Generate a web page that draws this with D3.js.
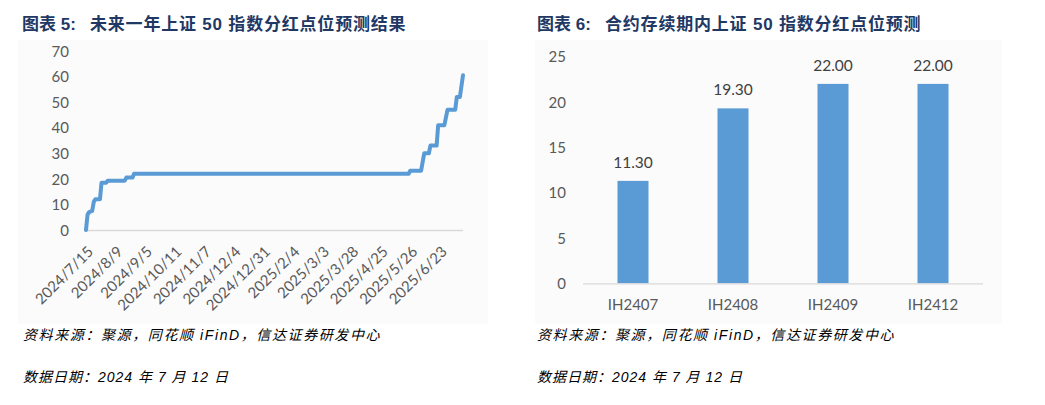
<!DOCTYPE html>
<html><head><meta charset="utf-8">
<script src="https://cdn.jsdelivr.net/npm/d3@7/dist/d3.min.js"></script>
<style>
html,body{margin:0;padding:0;background:#fff;}
svg{display:block;}
</style></head>
<body>
<svg id="chart" width="1045" height="405"></svg>
<script>
// ---- Left chart data (trading-day index from 2024/7/15, dividend points) ----
const lineDays   = [0, 1, 2, 4, 5, 6, 9, 10, 13, 14, 25, 26, 30, 31, 208, 209, 216, 218, 221, 222, 226, 227, 231, 233, 238, 239, 241, 243];
const lineValues = [0, 6, 7, 7.5, 11, 12, 12, 18.5, 18.5, 19.3, 19.3, 20.5, 20.5, 22, 22, 23.2, 23.2, 30, 30, 33, 33, 41, 41, 47, 47, 52, 52, 60.5];
const lineLastDay = 243;
const dateTickLabels = ["2024/7/15","2024/8/9","2024/9/5","2024/10/11","2024/11/7","2024/12/4","2024/12/31","2025/2/4","2025/3/3","2025/3/28","2025/4/25","2025/5/26","2025/6/23"];
const dateLabelInterval = 19;
const leftYTicks = [0,10,20,30,40,50,60,70];

// ---- Right chart data ----
const contracts = ["IH2407","IH2408","IH2409","IH2412"];
const contractValues = [11.30, 19.30, 22.00, 22.00];
const rightYTicks = [0,5,10,15,20,25];

const leftTitlePrefix = "图表 5:";
const leftTitle = "未来一年上证 50 指数分红点位预测结果";
const rightTitlePrefix = "图表 6:";
const rightTitle = "合约存续期内上证 50 指数分红点位预测";
const sourceText = "资料来源：聚源，同花顺 iFinD，信达证券研发中心";
const dateText = "数据日期：2024 年 7 月 12 日";

const svg = d3.select("#chart");
const blue = "#5b9bd5";
const axisTextColor = "#595959";
const numFont = "Lato, 'Open Sans', sans-serif";
const cjkFont = "'Liberation Sans', 'Noto Sans CJK SC', sans-serif";

// faint panels
svg.append("rect").attr("x",18).attr("y",40).attr("width",470).attr("height",284).attr("fill","#fbfbfb");
svg.append("rect").attr("x",535).attr("y",40).attr("width",467).attr("height",284).attr("fill","#fbfbfb");

// titles
[[leftTitlePrefix,leftTitle,22],[rightTitlePrefix,rightTitle,537]].forEach(([p,t,x])=>{
  svg.append("text").attr("x",x).attr("y",30).text(p)
    .attr("font-family",cjkFont).attr("font-weight","bold").attr("font-size",17).attr("fill","#1f3864");
  svg.append("text").attr("x",x+68).attr("y",30).text(t)
    .attr("font-family",cjkFont).attr("font-weight","bold").attr("font-size",17)
    .attr("letter-spacing",0.8).attr("fill","#1f3864");
});

// footers
[[23],[537]].forEach(([x])=>{
  svg.append("text").attr("x",x).attr("y",340).text(sourceText)
    .attr("font-family",cjkFont).attr("font-style","italic").attr("font-size",14)
    .attr("letter-spacing",1.6).attr("fill","#000");
  svg.append("text").attr("x",x).attr("y",382).text(dateText)
    .attr("font-family",cjkFont).attr("font-style","italic").attr("font-size",14)
    .attr("letter-spacing",1).attr("fill","#000");
});

// ---------------- Left line chart ----------------
const xL = d3.scaleLinear().domain([0, lineLastDay]).range([86, 463]);
const yL = d3.scaleLinear().domain([0, 70]).range([230, 51]);

const gL = svg.append("g");
const yAxisL = d3.axisLeft(yL).tickValues(leftYTicks).tickSize(0).tickPadding(0);
const yg = gL.append("g").attr("transform","translate(69,0)").call(yAxisL);
yg.select(".domain").remove();
yg.selectAll("text").attr("font-family",numFont).attr("font-size",15).attr("fill",axisTextColor).attr("dy","0.35em");

const tickIdx = dateTickLabels.map((d,i)=>i*dateLabelInterval);
const xAxisL = d3.axisBottom(xL).tickValues(tickIdx).tickFormat((d,i)=>dateTickLabels[i]).tickSize(0);
const xg = gL.append("g").attr("transform","translate(0,230)").call(xAxisL);
xg.select(".domain").attr("stroke","#d9d9d9").attr("stroke-width",1.3).attr("d","M85,0.5H463");
xg.selectAll("text")
  .attr("font-family",numFont).attr("font-size",15).attr("fill",axisTextColor)
  .attr("text-anchor","end").attr("y",0).attr("dy","0.35em")
  .attr("transform","translate(4,19) rotate(-45)");

const lineGen = d3.line().x((d,i)=>xL(lineDays[i])).y((d,i)=>yL(lineValues[i]));
gL.append("path").datum(lineValues).attr("d",lineGen)
  .attr("fill","none").attr("stroke",blue).attr("stroke-width",4).attr("stroke-linejoin","round").attr("stroke-linecap","round");

// ---------------- Right bar chart ----------------
const xR = d3.scaleBand().domain(contracts).range([583,983]).paddingInner(0.69).paddingOuter(0.345);
const yR = d3.scaleLinear().domain([0,25]).range([283.3,56.7]);
const gR = svg.append("g");
const yAxisR = d3.axisLeft(yR).tickValues(rightYTicks).tickSize(0).tickPadding(0);
const ygR = gR.append("g").attr("transform","translate(566,0)").call(yAxisR);
ygR.select(".domain").remove();
ygR.selectAll("text").attr("font-family",numFont).attr("font-size",15).attr("fill",axisTextColor).attr("dy","0.35em");

gR.selectAll("rect.bar").data(contractValues).join("rect").attr("class","bar")
  .attr("x",(d,i)=>xR(contracts[i])).attr("width",xR.bandwidth())
  .attr("y",d=>yR(d)).attr("height",d=>yR(0)-yR(d)).attr("fill",blue);

const xAxisR = d3.axisBottom(xR).tickSize(0).tickPadding(0);
const xgR = gR.append("g").attr("transform","translate(0,283.3)").call(xAxisR);
xgR.select(".domain").attr("stroke","#d9d9d9").attr("stroke-width",1.3).attr("d","M583,0.5H983");
xgR.selectAll("text").attr("font-family",numFont).attr("font-size",15).attr("fill",axisTextColor)
  .attr("y",0).attr("dy","1.8em");

gR.selectAll("text.val").data(contractValues).join("text").attr("class","val")
  .attr("x",(d,i)=>xR(contracts[i])+xR.bandwidth()/2).attr("y",d=>yR(d)-13)
  .attr("text-anchor","middle").attr("font-family",numFont).attr("font-size",15.5).attr("fill","#404040")
  .text(d=>d.toFixed(2));
</script>
</body></html>
